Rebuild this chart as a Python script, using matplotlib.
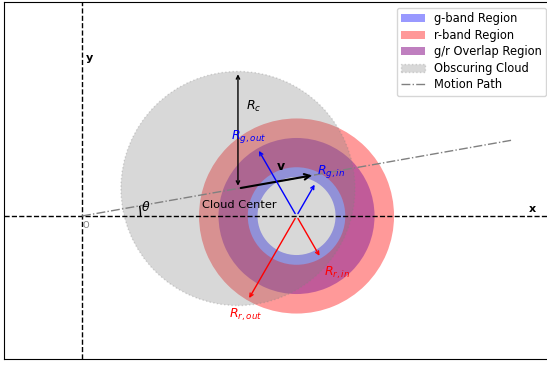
import numpy as np
import matplotlib
matplotlib.use('Agg')
from matplotlib import pyplot as plt
from matplotlib.patches import Wedge, Circle, Arc, Patch
from matplotlib.lines import Line2D

# geometry (arbitrary units)
sourceCenter = (11.0, 0.0)
rGIn, rGOut = 2.0, 4.0
rRIn, rROut = 2.5, 5.0
thetaDeg = 10.0
cloudDist = 8.12
cloudRadius = 6.0
vLength = 4.0
pathEndX = 22.0
# directions (deg) of the radius arrows drawn from the source center
angGOut, angGIn, angRIn, angROut = 120, 60, -60, -120

theta = np.deg2rad(thetaDeg)
cloudCenter = (cloudDist * np.cos(theta), cloudDist * np.sin(theta))

fig = plt.figure(figsize=(5.47, 3.65), dpi=100)
ax = fig.add_axes([4 / 547, 6 / 365, 548 / 547, 357 / 365])
ax.set_xlim(-4.0, 24.1)
ax.set_ylim(-7.33, 10.97)
ax.set_xticks([])
ax.set_yticks([])

# coordinate axes
ax.axhline(0, color='k', ls='--', lw=1, zorder=5)
ax.axvline(0, color='k', ls='--', lw=1, zorder=5)
ax.text(23.1, 0.36, 'x', fontsize=8, fontweight='bold', ha='center', va='center')
ax.text(0.38, 8.1, 'y', fontsize=8, fontweight='bold', ha='center', va='center')
ax.text(0.2, -0.5, 'O', fontsize=6, color='gray', ha='center', va='center')

# emission rings
ax.add_patch(Wedge(sourceCenter, rGOut, 0, 360, width=rGOut - rGIn,
                   facecolor='blue', alpha=0.4, lw=0, zorder=3))
ax.add_patch(Wedge(sourceCenter, rROut, 0, 360, width=rROut - rRIn,
                   facecolor='red', alpha=0.4, lw=0, zorder=3))

# cloud on top
ax.add_patch(Circle(cloudCenter, cloudRadius, facecolor='gray', edgecolor='gray',
                    alpha=0.3, ls=':', lw=1, zorder=4))

# motion path + angle
ax.plot([0, pathEndX], [0, pathEndX * np.tan(theta)], color='gray', ls='-.', lw=1, zorder=5)
ax.add_patch(Arc((0, 0), 6, 6, theta1=0, theta2=thetaDeg, color='k', lw=1, zorder=5))
ax.text(3.25, 0.45, r'$\theta$', fontsize=9, ha='center', va='center', zorder=6)

# cloud radius and velocity
ax.annotate('', xy=(cloudCenter[0], cloudCenter[1] + cloudRadius), xytext=cloudCenter,
            arrowprops=dict(arrowstyle='<->', color='k', lw=1, mutation_scale=6), zorder=6)
ax.text(8.8, 5.6, r'$R_c$', fontsize=9, ha='center', va='center', zorder=6)
ax.annotate('', xy=(cloudCenter[0] + vLength * np.cos(theta), cloudCenter[1] + vLength * np.sin(theta)),
            xytext=cloudCenter,
            arrowprops=dict(arrowstyle='->', color='k', lw=1.5, mutation_scale=10), zorder=6)
ax.text(10.2, 2.56, r'$\mathbf{v}$', fontsize=9, ha='center', va='center', zorder=6)
ax.text(8.05, 0.56, 'Cloud Center', fontsize=8.2, ha='center', va='center', zorder=6)

# ring radii
for ang, r, c, lab, pos in [(angGOut, rGOut, 'blue', r'$R_{g,out}$', (8.56, 4.05)),
                            (angGIn, rGIn, 'blue', r'$R_{g,in}$', (12.77, 2.26)),
                            (angRIn, rRIn, 'red', r'$R_{r,in}$', (13.08, -2.92)),
                            (angROut, rROut, 'red', r'$R_{r,out}$', (8.41, -5.08))]:
    a = np.deg2rad(ang)
    end = (sourceCenter[0] + r * np.cos(a), sourceCenter[1] + r * np.sin(a))
    ax.annotate('', xy=end, xytext=sourceCenter,
                arrowprops=dict(arrowstyle='->', color=c, lw=1, mutation_scale=6), zorder=6)
    ax.text(pos[0], pos[1], lab, color=c, fontsize=9, ha='center', va='center', zorder=6)

handles = [Patch(facecolor='blue', alpha=0.4, label='g-band Region'),
           Patch(facecolor='red', alpha=0.4, label='r-band Region'),
           Patch(facecolor='purple', alpha=0.5, label='g/r Overlap Region'),
           Patch(facecolor='gray', edgecolor='gray', alpha=0.3, ls=':', label='Obscuring Cloud'),
           Line2D([], [], color='gray', ls='-.', lw=1, label='Motion Path')]
ax.legend(handles=handles, loc='upper right', fontsize=8.3, labelspacing=0.3)

fig.savefig('out.png', dpi=100)
